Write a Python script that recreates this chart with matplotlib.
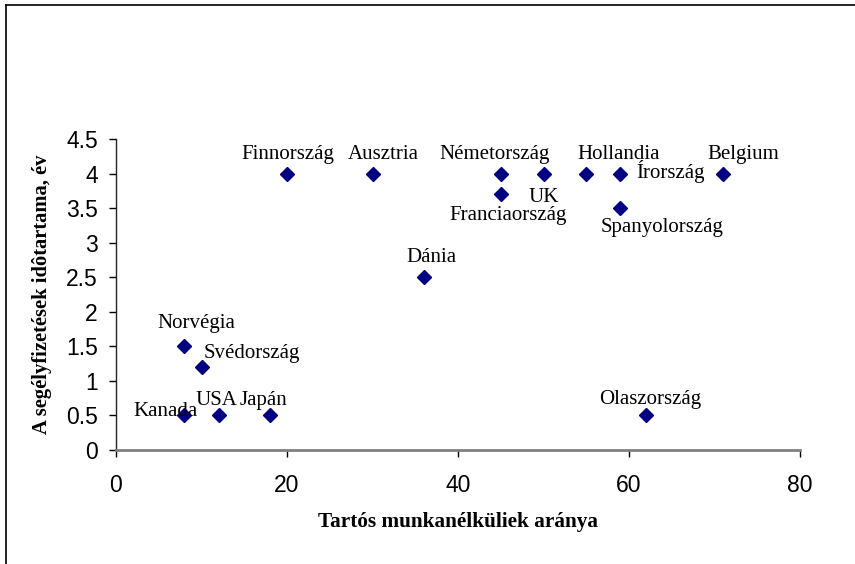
import matplotlib
matplotlib.use("Agg")
import matplotlib.pyplot as plt
from matplotlib.lines import Line2D

countries = ["Finnország", "Ausztria", "Németország", "UK", "Franciaország",
             "Hollandia", "Írország", "Spanyolország", "Belgium", "Dánia",
             "Norvégia", "Svédország", "Kanada", "USA", "Japán", "Olaszország"]
long_term_share = [20, 30, 45, 50, 45, 55, 59, 59, 71, 36, 8, 10, 8, 12, 18, 62]
benefit_years = [4, 4, 4, 4, 3.7, 4, 4, 3.5, 4, 2.5, 1.5, 1.2, 0.5, 0.5, 0.5, 0.5]

# label offsets in pixels from the marker (dx, dy, ha)
offsets = {
    "Finnország": (1, 19, "center"),
    "Ausztria": (11, 19, "center"),
    "Németország": (-6, 19, "center"),
    "UK": (0, -24, "center"),
    "Franciaország": (7, -21, "center"),
    "Hollandia": (32, 19, "center"),
    "Írország": (16, 2, "left"),
    "Spanyolország": (42, -19, "center"),
    "Belgium": (20, 19, "center"),
    "Dánia": (8, 20, "center"),
    "Norvégia": (12, 23, "center"),
    "Svédország": (50, 14, "center"),
    "Kanada": (-19, 4, "center"),
    "USA": (-2, 15, "center"),
    "Japán": (-6, 15, "center"),
    "Olaszország": (4, 16, "center"),
}

fig = plt.figure(figsize=(8.55, 5.64), dpi=100)
ax = fig.add_axes([116 / 855, 1 - 450 / 564, 684 / 855, 311 / 564])

ax.plot(long_term_share, benefit_years, "D", color="#000080", markersize=7,
        markeredgecolor="#000080", clip_on=False)

for name, x, y in zip(countries, long_term_share, benefit_years):
    dx, dy, ha = offsets[name]
    ax.annotate(name, (x, y), xytext=(dx, dy), textcoords="offset pixels",
                ha=ha, va="center", fontsize=15, family="Liberation Serif")

ax.set_xlim(0, 80)
ax.set_ylim(0, 4.5)
ax.set_xticks([0, 20, 40, 60, 80])
ax.set_yticks([0, 0.5, 1, 1.5, 2, 2.5, 3, 3.5, 4, 4.5])
ax.set_yticklabels(["0", "0.5", "1", "1.5", "2", "2.5", "3", "3.5", "4", "4.5"])

for s in ["top", "right"]:
    ax.spines[s].set_visible(False)
ax.spines["bottom"].set_color("#808080")
ax.spines["bottom"].set_linewidth(2)
ax.spines["left"].set_color("#222222")
ax.spines["left"].set_linewidth(1)

ax.tick_params(direction="out", length=5, width=1, color="black")
ax.tick_params(axis="x", pad=12)
ax.tick_params(axis="y", pad=8)
for lab in ax.get_xticklabels() + ax.get_yticklabels():
    lab.set_family("Liberation Sans")
    lab.set_fontsize(16.5)

ax.set_xlabel("Tartós munkanélküliek aránya", fontsize=15.3, fontweight="bold",
              family="Liberation Serif", labelpad=11)
ax.set_ylabel("A segélyfizetések idôtartama, év", fontsize=14.8, fontweight="bold",
              family="Liberation Serif", labelpad=10)

# frame around the chart area (only left and top edges visible)
fig.add_artist(Line2D([6 / 855, 6 / 855], [0, 1 - 5 / 564], color="black", linewidth=1.2))
fig.add_artist(Line2D([6 / 855, 1], [1 - 5 / 564, 1 - 5 / 564], color="black", linewidth=1.2))

fig.savefig("out.png", dpi=100)
